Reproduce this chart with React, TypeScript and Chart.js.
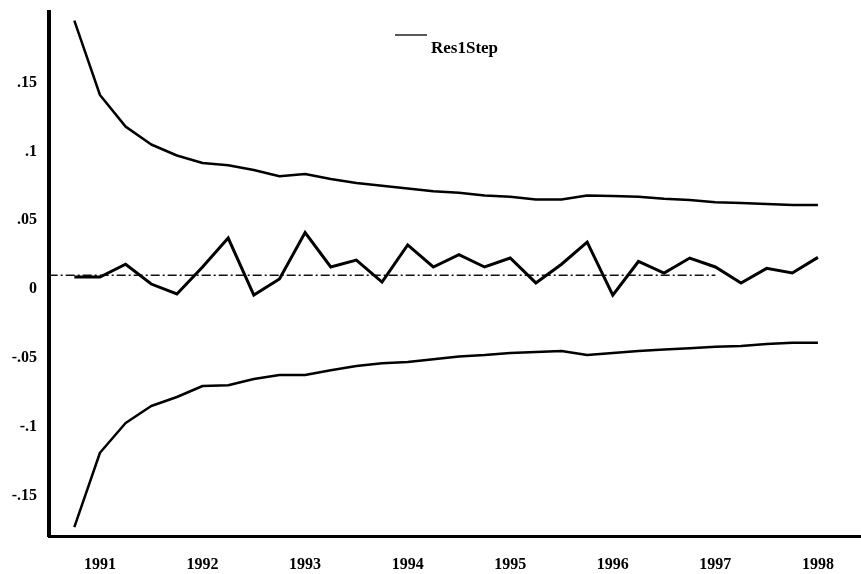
import React, { useEffect, useRef } from "react";
import { Chart, registerables } from "chart.js";

Chart.register(...registerables);

const quarters = [
  1990.75, 1991.0, 1991.25, 1991.5, 1991.75, 1992.0, 1992.25, 1992.5, 1992.75,
  1993.0, 1993.25, 1993.5, 1993.75, 1994.0, 1994.25, 1994.5, 1994.75,
  1995.0, 1995.25, 1995.5, 1995.75, 1996.0, 1996.25, 1996.5, 1996.75,
  1997.0, 1997.25, 1997.5, 1997.75, 1998.0,
];

const res1Step = [
  0.0087, 0.0087, 0.018, 0.0036, -0.0036, 0.016, 0.037, -0.0044, 0.0073,
  0.041, 0.016, 0.021, 0.005, 0.032, 0.016, 0.025, 0.016,
  0.0225, 0.0044, 0.018, 0.034, -0.0044, 0.02, 0.0116, 0.0225,
  0.016, 0.0044, 0.015, 0.0116, 0.023,
];

const upperBand = [
  0.195, 0.141, 0.118, 0.105, 0.097, 0.0916, 0.09, 0.0865, 0.082,
  0.0835, 0.08, 0.077, 0.075, 0.073, 0.071, 0.07, 0.068,
  0.067, 0.065, 0.065, 0.068, 0.0676, 0.067, 0.0655, 0.0647,
  0.063, 0.0625, 0.0618, 0.061, 0.061,
];

const lowerBand = [
  -0.173, -0.119, -0.0974, -0.085, -0.0785, -0.0705, -0.07, -0.0654, -0.0625,
  -0.0625, -0.059, -0.056, -0.054, -0.053, -0.051, -0.049, -0.048,
  -0.0465, -0.0458, -0.045, -0.048, -0.0465, -0.045, -0.044, -0.043,
  -0.042, -0.0414, -0.04, -0.039, -0.039,
];

const refLineX = [1990.5, 1997.0];
const refLineY = [0.01, 0.01];

const xTickValues = [1991, 1992, 1993, 1994, 1995, 1996, 1997, 1998];
const yTickValues = [-0.15, -0.1, -0.05, 0, 0.05, 0.1, 0.15];
const yTickLabels = ["-.15", "-.1", "-.05", "0", ".05", ".1", ".15"];

const legendLabel = "Res1Step";

const FONT = "'Liberation Serif', 'DejaVu Serif', serif";

const legendPlugin = {
  id: "customLegend",
  afterDraw(chart: any) {
    const ctx = chart.ctx;
    ctx.save();
    ctx.strokeStyle = "#222";
    ctx.lineWidth = 1.5;
    ctx.beginPath();
    ctx.moveTo(395, 35);
    ctx.lineTo(427, 35);
    ctx.stroke();
    ctx.fillStyle = "#000";
    ctx.font = `bold 17px ${FONT}`;
    ctx.textAlign = "left";
    ctx.textBaseline = "alphabetic";
    ctx.fillText(legendLabel, 431, 53);
    ctx.restore();
  },
};

export default function App() {
  const canvasRef = useRef<HTMLCanvasElement | null>(null);

  useEffect(() => {
    document.body.style.margin = "0";
    const canvas = canvasRef.current;
    if (!canvas) return;
    const toPts = (ys: number[]) => quarters.map((x, i) => ({ x, y: ys[i] }));
    const chart = new Chart(canvas, {
      type: "line",
      data: {
        datasets: [
          {
            label: "upper",
            data: toPts(upperBand),
            borderColor: "#000",
            borderWidth: 2.5,
            pointRadius: 0,
            tension: 0,
            borderJoinStyle: "round",
          },
          {
            label: "lower",
            data: toPts(lowerBand),
            borderColor: "#000",
            borderWidth: 2.5,
            pointRadius: 0,
            tension: 0,
            borderJoinStyle: "round",
          },
          {
            label: legendLabel,
            data: toPts(res1Step),
            borderColor: "#000",
            borderWidth: 3,
            pointRadius: 0,
            tension: 0,
            borderJoinStyle: "miter",
          },
          {
            label: "ref",
            data: refLineX.map((x, i) => ({ x, y: refLineY[i] })),
            borderColor: "#111",
            borderWidth: 1.4,
            borderDash: [9, 3, 2, 3],
            pointRadius: 0,
            tension: 0,
          },
        ],
      },
      options: {
        responsive: false,
        animation: false,
        layout: { padding: { top: 12, right: 0, left: 0, bottom: 0 } },
        plugins: {
          legend: { display: false },
          tooltip: { enabled: false },
        },
        scales: {
          x: {
            type: "linear",
            min: 1990.503,
            max: 1998.42,
            grid: { display: false, drawTicks: false },
            border: { display: true, width: 3, color: "#000" },
            ticks: {
              color: "#000",
              font: { family: FONT, size: 16, weight: "bold" },
              padding: 19,
              maxRotation: 0,
              autoSkip: false,
              callback: (v: any) => String(v),
            },
            afterBuildTicks: (scale: any) => {
              scale.ticks = xTickValues.map((v) => ({ value: v }));
            },
            afterFit: (scale: any) => {
              scale.height = 38;
              scale.paddingLeft = 0;
              scale.paddingRight = 0;
            },
          },
          y: {
            type: "linear",
            min: -0.1795,
            max: 0.2013,
            grid: { display: false, drawTicks: false },
            border: { display: true, width: 4, color: "#000" },
            ticks: {
              color: "#000",
              font: { family: FONT, size: 16, weight: "bold" },
              padding: 12,
              autoSkip: false,
              callback: (v: any) => {
                const idx = yTickValues.findIndex((t) => Math.abs(t - v) < 1e-9);
                return idx >= 0 ? yTickLabels[idx] : "";
              },
            },
            afterBuildTicks: (scale: any) => {
              scale.ticks = yTickValues.map((v) => ({ value: v }));
            },
            afterFit: (scale: any) => {
              scale.width = 49;
              scale.paddingTop = 0;
              scale.paddingBottom = 0;
            },
          },
        },
      },
      plugins: [legendPlugin],
    });
    return () => chart.destroy();
  }, []);

  return (
    <div style={{ width: 861, height: 574, background: "#fff" }}>
      <canvas ref={canvasRef} width={861} height={574} />
    </div>
  );
}
